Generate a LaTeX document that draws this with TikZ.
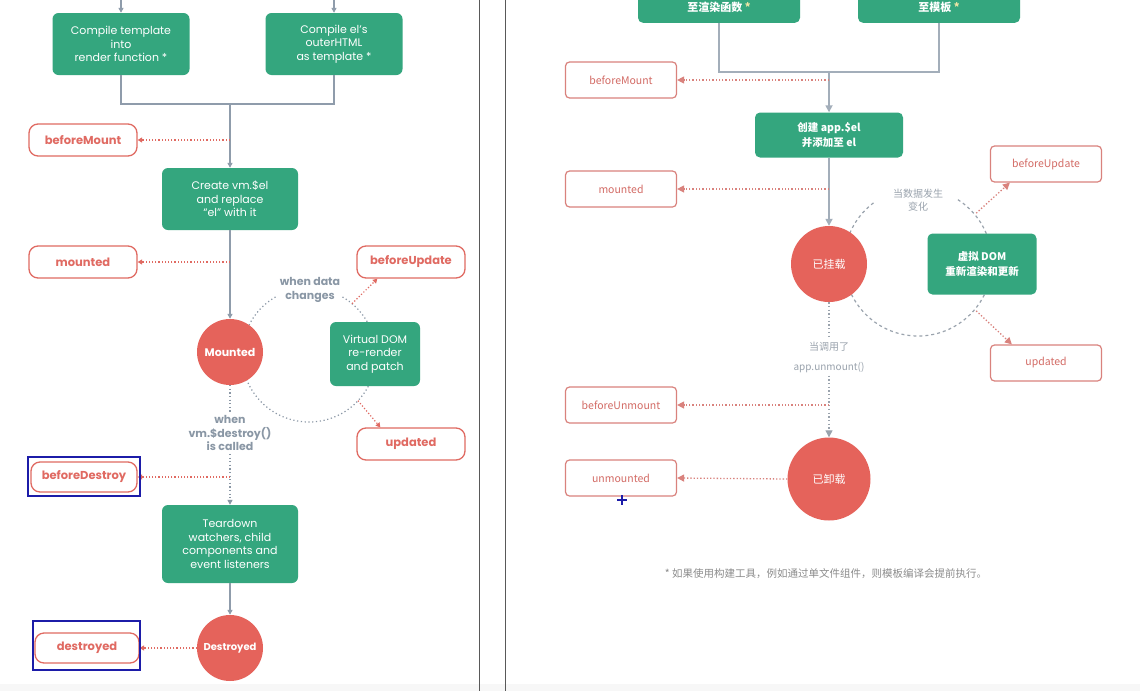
\documentclass[tikz,border=0pt]{standalone}
\usepackage{fontspec}
\setmainfont{Poppins}
\newfontfamily\cjk{Noto Sans CJK SC}
\usetikzlibrary{arrows.meta}
\usetikzlibrary{calc}
\usetikzlibrary{positioning}

\definecolor{vuegreen}{HTML}{34A67E}
\definecolor{discred}{HTML}{E5635B}
\definecolor{hookred}{HTML}{E06A62}
\definecolor{hookredR}{HTML}{D9827D}
\definecolor{hooktextR}{HTML}{D36B65}
\definecolor{linegray}{HTML}{8F9CAB}
\definecolor{linegrayR}{HTML}{A3AEBA}
\definecolor{notegray}{HTML}{8A97A5}
\definecolor{notegrayR}{HTML}{9AA3AD}
\definecolor{footgray}{HTML}{8C8C8C}
\definecolor{starcol}{HTML}{EFE6A6}
\definecolor{annotblue}{HTML}{1C1CA8}

\tikzset{
  % left panel (Vue 2 chart)
  stagebox/.style={fill=vuegreen, rounded corners=6pt, text=white, align=center,
    font=\fontsize{11}{13.6}\selectfont, inner sep=0pt},
  hookbox/.style={draw=hookred, line width=1.3pt, rounded corners=9pt, fill=white,
    text=hookred, font=\bfseries\fontsize{11.5}{13}\selectfont,
    minimum width=108pt, minimum height=32pt, inner sep=0pt},
  statedisc/.style={circle, fill=discred, text=white, inner sep=0pt,
    font=\bfseries\fontsize{11}{13}\selectfont, minimum size=66pt},
  notetext/.style={text=notegray, align=center, inner sep=3pt,
    font=\bfseries\fontsize{11}{13.6}\selectfont},
  flowline/.style={draw=linegray, line width=1.5pt, -{Triangle[length=5pt,width=5pt]}},
  joinline/.style={draw=linegray, line width=1.5pt},
  hookline/.style={draw=hookred, line width=1.2pt, dash pattern=on 1.2pt off 2pt,
    -{Triangle[length=4.5pt,width=5pt]}},
  looplineL/.style={draw=notegray, line width=1.2pt, dash pattern=on 1.2pt off 2.6pt},
  noteline/.style={draw=notegray, line width=1.2pt, dash pattern=on 1.2pt off 2.4pt},
  % right panel (Vue 3 chart)
  rtopbox/.style={fill=vuegreen, rounded corners=5pt, text=white, align=center,
    font=\cjk\bfseries\fontsize{11}{16}\selectfont, inner xsep=0pt, inner ysep=5pt,
    text height=30pt, text depth=6pt, anchor=south, minimum width=162pt},
  rstage/.style={fill=vuegreen, rounded corners=5pt, text=white, align=center,
    font=\cjk\bfseries\fontsize{10.5}{15.5}\selectfont, inner sep=0pt},
  rhook/.style={draw=hookredR, line width=1.2pt, rounded corners=4pt, fill=white,
    text=hooktextR, font=\cjk\fontsize{10.5}{12}\selectfont,
    minimum width=111pt, minimum height=36pt, inner sep=0pt},
  rdisc/.style={circle, fill=discred, text=white, inner sep=0pt,
    font=\cjk\fontsize{11}{13}\selectfont},
  rnote/.style={text=notegrayR, align=center, inner sep=3pt,
    font=\cjk\fontsize{10}{20}\selectfont},
  rflow/.style={draw=linegrayR, line width=1.6pt, -{Triangle[length=7pt,width=7pt]}},
  rjoin/.style={draw=linegrayR, line width=1.6pt},
  rhookline/.style={draw=hookredR, line width=1.3pt, dash pattern=on 1.3pt off 2pt,
    -{Triangle[length=7pt,width=7pt]}},
  rloop/.style={draw=notegrayR, line width=1.2pt, dash pattern=on 3pt off 3pt},
  rnoteline/.style={draw=notegrayR, line width=1.2pt, dash pattern=on 1.3pt off 2.4pt},
  rnoteflow/.style={rnoteline, -{Triangle[length=7pt,width=7pt]}},
  panelrule/.style={draw=black!65, line width=1pt},
  annot/.style={draw=annotblue, line width=1.4pt}
}

\begin{document}
\begin{tikzpicture}[x=1pt,y=-1pt]
    \useasboundingbox (0,0) rectangle (1140,691);
    \fill[white] (0,0) rectangle (1140,691);
    \fill[black!3] (0,684) rectangle (1140,691);
    \draw[panelrule] (479,0) -- (479,691);
    \draw[panelrule] (505,0) -- (505,691);

    % ---- left panel ----
    % update loop, drawn first so that the nodes cover it
    \coordinate (loopL) at (309,355);
    \draw[looplineL] ([shift={(120:67pt)}]loopL) arc[start angle=120, end angle=420, radius=67pt];

    \coordinate (yesL) at (121,0);
    \coordinate (noL) at (334,0);
    \node[stagebox, minimum width=137pt, minimum height=62pt] (tplL) at (121,44) {Compile template\\into\\render function *};
    \node[stagebox, minimum width=137pt, minimum height=62pt] (htmlL) at (334,44) {Compile el's\\outerHTML\\as template *};
    \coordinate (joinL) at (230,104);
    \node[hookbox] (bmL) at (83,140) {beforeMount};
    \node[stagebox, minimum width=136pt, minimum height=62pt] (createL) at (230,199) {Create vm.\$el\\and replace\\“el” with it};
    \node[hookbox] (mtL) at (83,262) {mounted};
    \node[statedisc] (mountedL) at (230,352) {Mounted};
    \node[notetext] (changeL) at (310,290) {when data\\changes};
    \node[stagebox, minimum width=90pt, minimum height=64pt] (vdomL) at (375,354) {Virtual DOM\\re-render\\and patch};
    \node[hookbox] (buL) at (411,262) {beforeUpdate};
    \node[hookbox] (upL) at (411,444) {updated};
    \node[notetext] (destroyL) at (230,433) {when\\vm.\$destroy()\\is called};
    \node[hookbox, minimum width=106pt, minimum height=30pt] (bdL) at (84,477) {beforeDestroy};
    \node[stagebox, minimum width=136pt, minimum height=78pt] (tearL) at (230,544) {Teardown\\watchers, child\\components and\\event listeners};
    \node[statedisc, font=\bfseries\fontsize{10}{12}\selectfont] (destroyedL) at (230,648) {Destroyed};
    \node[hookbox, minimum width=104pt, minimum height=30pt] (ddL) at (87,648) {destroyed};

    \draw[flowline] (yesL) -- (tplL.north);
    \draw[flowline] (noL) -- (htmlL.north);
    \draw[joinline] (tplL.south) |- (joinL) -| (htmlL.south);
    \draw[flowline] (joinL) -- (createL.north);
    \draw[hookline] (createL.north |- bmL.east) -- (bmL.east);
    \draw[flowline] (createL.south) -- (mountedL.north);
    \draw[hookline] (createL.south |- mtL.east) -- (mtL.east);
    \draw[hookline] ([shift={(50:67pt)}]loopL) -- ([xshift=21pt]buL.south west);
    \draw[hookline] ([shift={(-43:67pt)}]loopL) -- ([xshift=24pt]upL.north west);
    \draw[noteline] (mountedL.south) -- (destroyL.north);
    \draw[noteline, -{Triangle[length=5pt,width=5pt]}] (destroyL.south) -- (tearL.north);
    \draw[hookline] (tearL.north |- bdL.east) -- (bdL.east);
    \draw[flowline] (tearL.south) -- (destroyedL.north);
    \draw[hookline] (destroyedL.west) -- (ddL.east);

    % screenshot marks
    \draw[annot] (28,457) rectangle (140,496);
    \draw[annot] (33,621) rectangle (140,670);

    % ---- right panel ----
    \coordinate (loopR) at (918,262);
    \draw[rloop] ([shift={(127:74pt)}]loopR) arc[start angle=127, end angle=418, radius=74pt];

    \node[rtopbox] (tplR) at (719,23) {至渲染函数 \textcolor{starcol}{*}};
    \node[rtopbox] (htmlR) at (939,23) {至模板 \textcolor{starcol}{*}};
    \coordinate (joinR) at (829,72);
    \node[rhook] (bmR) at (621,80) {beforeMount};
    \node[rstage, minimum width=148pt, minimum height=45pt] (createR) at (829,135) {创建 app.\$el\\并添加至 el};
    \node[rhook] (mtR) at (621,189) {mounted};
    \node[rdisc, minimum size=76pt] (mountedR) at (829,264) {已挂载};
    \node[rnote, font=\cjk\fontsize{10}{13.5}\selectfont] (changeR) at (918,200) {当数据发生\\变化};
    \node[rstage, minimum width=109pt, minimum height=61pt] (vdomR) at (982,264) {虚拟 DOM\\重新渲染和更新};
    \node[rhook] (buR) at (1046,164) {beforeUpdate};
    \node[rhook] (upR) at (1046,363) {updated};
    \node[rnote] (unmountR) at (829,357) {当调用了\\app.unmount()};
    \node[rhook] (bumR) at (621,405) {beforeUnmount};
    \node[rdisc, minimum size=83pt] (unmountedR) at (829,479) {已卸载};
    \node[rhook] (umR) at (621,478) {unmounted};
    \node[text=footgray, font=\cjk\fontsize{10.5}{12}\selectfont] (footR) at (826,574) {* 如果使用构建工具，例如通过单文件组件，则模板编译会提前执行。};

    \draw[rjoin] (tplR.south) |- (joinR) -| (htmlR.south);
    \draw[rflow] (joinR) -- (createR.north);
    \draw[rhookline] (createR.north |- bmR.east) -- (bmR.east);
    \draw[rflow] (createR.south) -- (mountedR.north);
    \draw[rhookline] (createR.south |- mtR.east) -- (mtR.east);
    \draw[rhookline] ([shift={(40:76pt)}]loopR) -- ([xshift=20pt]buR.south west);
    \draw[rhookline] ([shift={(-40:76pt)}]loopR) -- ([xshift=22pt]upR.north west);
    \draw[rnoteline] (mountedR.south) -- (unmountR.north);
    \draw[rnoteflow] (unmountR.south) -- (unmountedR.north);
    \draw[rhookline] (unmountedR.north |- bumR.east) -- (bumR.east);
    \draw[rhookline] (unmountedR.west) -- (umR.east);

    % cursor
    \draw[annot] (617,500) -- (627,500) (622,495) -- (622,505);
\end{tikzpicture}
\end{document}
